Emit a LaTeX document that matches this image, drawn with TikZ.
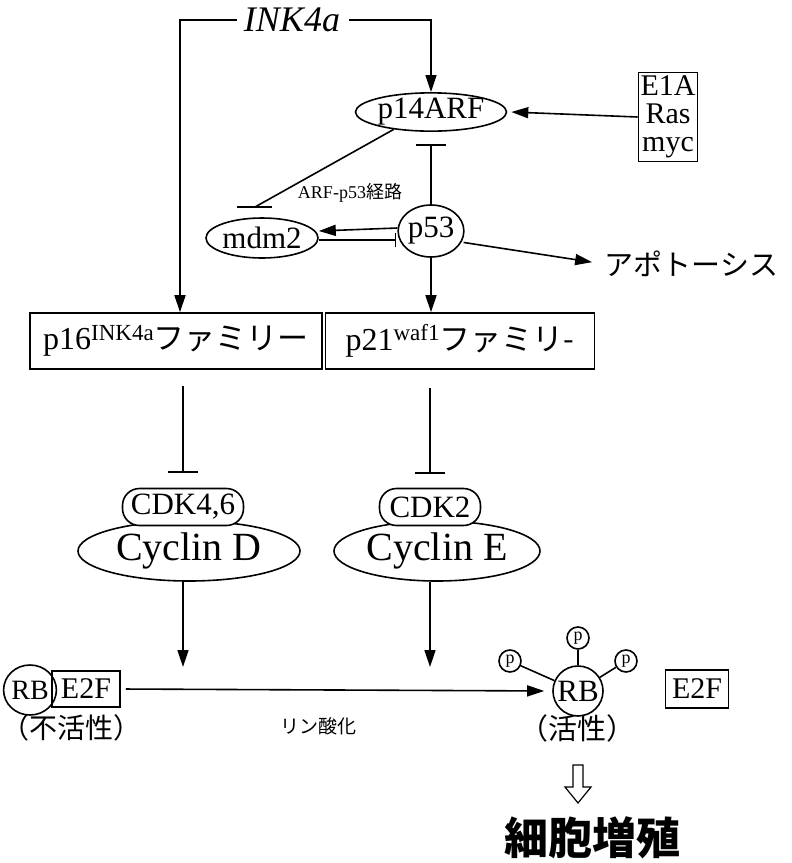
\documentclass[tikz,border=0pt]{standalone}
\usepackage{fontspec}
\setmainfont{Liberation Serif}
\newfontfamily\jp{Noto Sans CJK JP}
\usetikzlibrary{shapes.geometric,arrows.meta,calc}
\newcommand{\fs}[1]{\fontsize{#1}{#1}\selectfont}
\begin{document}
\begin{tikzpicture}[x=1pt,y=-1pt,
  line width=1.6pt,
  arr/.style={-{Triangle[length=17pt,width=11pt]}},
  inh/.style={-{Bar[width=30pt,line width=1.6pt]}},
  ell/.style={ellipse,draw,inner sep=0pt},
  box/.style={rectangle,draw,inner sep=0pt},
  pill/.style={draw,fill=white,rounded corners=17pt,inner sep=0pt,minimum height=37pt,font=\fs{31}},
  pc/.style={circle,draw,minimum size=22pt,inner sep=0pt,font=\fs{18}},
  lab/.style={inner sep=0pt},
]
\useasboundingbox (0,0) rectangle (792,863);

% nodes
\node[lab,font=\fs{36}\itshape] (ink) at (292,20) {INK4a};
\node[ell,minimum width=121pt,minimum height=37pt,font=\fs{31}] (p14) at (431,112) {p14ARF};
\node[box,minimum width=59pt,minimum height=89pt,align=center,font=\fontsize{30}{28}\selectfont] (e1a) at (668,117) {E1A\\Ras\\myc};
\node[ell,minimum width=111pt,minimum height=40pt,font=\fs{31}] (mdm2) at (262,238) {mdm2};
\node[ell,minimum width=63pt,minimum height=52pt,font=\fs{31}] (p53) at (431,231) {p53};
\node[lab,anchor=west,font=\jp\fs{29}] (apo) at (604,264) {アポトーシス};
\node[lab,font=\fs{18}] (arfp) at (350,193) {ARF-p53{\jp 経路}};

\node[box,minimum width=292pt,minimum height=56pt,font=\fs{32}] (p16) at (176,341)
  {p16\raisebox{0.3em}{\fs{23}INK4a}{\jp\fs{31}ファミリー}};
\node[box,minimum width=269pt,minimum height=56pt,font=\fs{32}] (p21) at (460,341)
  {p21\raisebox{0.3em}{\fs{23}waf1}{\jp\fs{31}ファミリ-}};

\node[ell,minimum width=222pt,minimum height=60pt,font=\fs{40}] (cycd) at (189,551) {Cyclin D};
\node[pill,minimum width=121pt] (cdk46) at (183,507) {CDK4,6};
\node[ell,minimum width=206pt,minimum height=60pt,font=\fs{40}] (cyce) at (437,551) {Cyclin E};
\node[pill,minimum width=101pt] (cdk2) at (430,507) {CDK2};

\node[ellipse,draw,minimum width=43pt,minimum height=50pt,inner sep=0pt,font=\fs{28}] (rb1) at (30,690) {RB};
\node[box,minimum width=68pt,minimum height=36pt,font=\fs{30}] (e2f1) at (86,689) {E2F};
\node[lab,font=\jp\fs{28}] (inact) at (71,728) {\kern-13pt（不活性）\kern-13pt};
\node[lab,font=\jp\fs{19}] (phos) at (318,726) {リン酸化};

\node[circle,draw,minimum size=50pt,inner sep=0pt,font=\fs{31}] (rb2) at (578,691) {RB};
\node[pc] (pa) at (510,661) {p};
\node[pc] (pb) at (578,638) {p};
\node[pc] (pc) at (626,661) {p};
\node[box,minimum width=63pt,minimum height=38pt,font=\fs{30}] (e2f2) at (697,689) {E2F};
\node[lab,font=\jp\fs{29}] (act) at (577,728) {\kern-13pt（活性）\kern-13pt};
\node[lab,font=\jp\bfseries\fs{44}] (prolif) at (592,838) {細胞増殖};

% connectors
\coordinate (inkL) at (180,20);
\draw[arr] ([xshift=-6pt]ink.west) -- (inkL) -- (inkL |- p16.north);
\draw[arr] ([xshift=8pt]ink.east) -| (p14.north);
\draw[arr] (e1a.west) -- ([xshift=4pt]p14.east);
\draw[inh,shorten >=12pt] (p53.north) -- (p14.south);
\coordinate (mbar) at (255,207);
\draw (p14.205) -- (mbar);
\draw ([xshift=-18pt]mbar) -- ([xshift=17pt]mbar);
\draw[arr] ([yshift=3pt]p53.west) -- ([yshift=7pt]mdm2.east);
\draw[-{Bar[width=14pt,line width=1.6pt]}] ([yshift=-2pt]mdm2.east) -- ([yshift=-9pt,xshift=-1pt]p53.west);
\draw[arr,shorten <=2pt,shorten >=12pt] (p53.-20) -- (apo.west);
\draw[arr] (p53.south) -- (p53.south |- p21.north);
\draw[inh,shorten <=16pt,shorten >=15pt] (p16.south -| cdk46) -- (cdk46.north);
\draw[inh,shorten <=18pt,shorten >=14pt] (p21.south -| cdk2) -- (cdk2.north);
\draw[arr,shorten >=23pt] (cycd.south -| cdk46) -- (cdk46 |- rb1);
\draw[arr,shorten >=23pt] (cyce.south -| cdk2) -- (cdk2 |- rb1);
\draw[arr,shorten <=5pt,shorten >=8pt] (e2f1.east) -- (rb2.west);
\draw (rb2) -- (pa); \draw (rb2) -- (pb); \draw (rb2) -- (pc);
\coordinate (ha) at (578,765);
\draw[line width=1.2pt] ([xshift=-5pt]ha) -- ++(0,22) -- ++(-8,0) -- (578,803) -- ++(13,-16) -- ++(-8,0) -- ++(0,-22) -- cycle;
\end{tikzpicture}
\end{document}
